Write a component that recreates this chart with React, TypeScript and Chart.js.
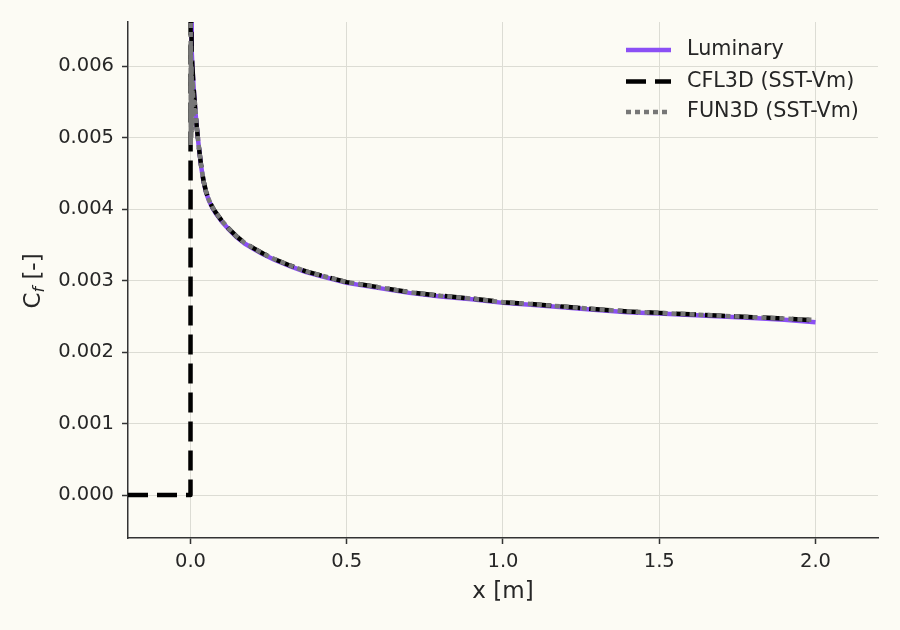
import { useEffect, useRef } from "react";
import { Chart, registerables } from "chart.js";

Chart.register(...registerables);

const FONT = "'DejaVu Sans', sans-serif";
const TEXT = "#262626";
const BG = "#fcfbf4";

const seriesNames = ["Luminary", "CFL3D (SST-Vm)", "FUN3D (SST-Vm)"];
const seriesColors = ["#8b4ff5", "#000000", "#777777"];

// Luminary skin friction along the plate
const xLuminary = [
  0.0003, 0.001, 0.002, 0.004, 0.006, 0.01, 0.015, 0.02, 0.026, 0.034, 0.042,
  0.05, 0.06, 0.07, 0.08, 0.1, 0.12, 0.145, 0.173, 0.2, 0.232, 0.27, 0.32,
  0.37, 0.42, 0.5, 0.6, 0.7, 0.8, 0.9, 1.0, 1.1, 1.2, 1.3, 1.4, 1.5, 1.6, 1.7,
  1.8, 1.9, 2.0,
];
const cfLuminary = [
  0.0085, 0.0072, 0.0066, 0.0062, 0.006, 0.0057, 0.0054, 0.00515, 0.0049,
  0.0046, 0.00438, 0.00423, 0.00411, 0.00402, 0.00395, 0.00383, 0.00373,
  0.00362, 0.00352, 0.00345, 0.00337, 0.00329, 0.0032, 0.00312, 0.00306,
  0.00297, 0.0029, 0.00283, 0.00278, 0.00274, 0.00269, 0.00266, 0.002625,
  0.00259, 0.00256, 0.00254, 0.00252, 0.0025, 0.00248, 0.002455, 0.00242,
];

// CFL3D: zero upstream of the leading edge, then the turbulent plate
const xCfl3d = [
  -0.2, -0.1, 0.0, 0.0002, 0.0006, 0.002, 0.004, 0.006, 0.01, 0.015, 0.02,
  0.026, 0.034, 0.042, 0.05, 0.06, 0.07, 0.08, 0.1, 0.12, 0.145, 0.173, 0.2,
  0.232, 0.27, 0.32, 0.37, 0.42, 0.5, 0.6, 0.7, 0.8, 0.9, 1.0, 1.1, 1.2, 1.3,
  1.4, 1.5, 1.6, 1.7, 1.8, 1.9, 1.98,
];
const cfCfl3d = [
  0.0, 0.0, 0.0, 0.0046, 0.0095, 0.0068, 0.0062, 0.006, 0.0057, 0.0054,
  0.00515, 0.0049, 0.00461, 0.00439, 0.00424, 0.00412, 0.00403, 0.00396,
  0.00384, 0.00374, 0.00363, 0.00353, 0.00346, 0.00338, 0.0033, 0.00321,
  0.00313, 0.00307, 0.00298, 0.00291, 0.00284, 0.00279, 0.00275, 0.0027,
  0.00267, 0.002635, 0.0026, 0.00257, 0.00255, 0.00253, 0.00251, 0.00249,
  0.00247, 0.00245,
];

// FUN3D: oscillates near the leading edge
const xFun3d = [
  0.0001, 0.0008, 0.0015, 0.0025, 0.0035, 0.005, 0.007, 0.01, 0.014, 0.02,
  0.026, 0.034, 0.042, 0.05, 0.06, 0.07, 0.08, 0.1, 0.12, 0.145, 0.173, 0.2,
  0.232, 0.27, 0.32, 0.37, 0.42, 0.5, 0.6, 0.7, 0.8, 0.9, 1.0, 1.1, 1.2, 1.3,
  1.4, 1.5, 1.6, 1.7, 1.8, 1.9, 2.0,
];
const cfFun3d = [
  0.009, 0.0049, 0.0063, 0.005, 0.006, 0.0051, 0.0058, 0.0053, 0.0055,
  0.00515, 0.0049, 0.00461, 0.00439, 0.00424, 0.00412, 0.00403, 0.00396,
  0.00384, 0.00374, 0.00363, 0.00353, 0.00346, 0.00338, 0.0033, 0.00321,
  0.00313, 0.00307, 0.00298, 0.00291, 0.00284, 0.00279, 0.00275, 0.0027,
  0.00267, 0.002635, 0.0026, 0.00257, 0.00255, 0.00253, 0.00251, 0.00249,
  0.00247, 0.00245,
];

const xTicks = [0, 0.5, 1.0, 1.5, 2.0];
const yTicks = [0, 0.001, 0.002, 0.003, 0.004, 0.005, 0.006];

const lineDashes: number[][] = [[], [20, 9], [5, 4]];

const toPoints = (xs: number[], ys: number[]) =>
  xs.map((x, i) => ({ x, y: ys[i] }));

// axis titles and a frameless legend, drawn by hand
const labelPlugin = {
  id: "cfLabels",
  beforeDraw(chart: Chart) {
    const ctx = chart.ctx;
    ctx.save();
    ctx.fillStyle = BG;
    ctx.fillRect(0, 0, chart.width, chart.height);
    ctx.restore();
  },
  afterDraw(chart: Chart) {
    const ctx = chart.ctx;
    const area = chart.chartArea;
    ctx.save();
    ctx.fillStyle = TEXT;
    ctx.textBaseline = "middle";

    ctx.font = `23px ${FONT}`;
    ctx.textAlign = "center";
    ctx.fillText("x [m]", (area.left + area.right) / 2, 592);

    // C_f [-], rotated
    ctx.save();
    ctx.translate(34, (area.top + area.bottom) / 2 + 1);
    ctx.rotate(-Math.PI / 2);
    ctx.textAlign = "left";
    const big = `23px ${FONT}`;
    const small = `italic 16px ${FONT}`;
    ctx.font = big;
    const wC = ctx.measureText("C").width;
    const wRest = ctx.measureText(" [-]").width;
    ctx.font = small;
    const wF = ctx.measureText("f").width;
    let x0 = -(wC + wF + wRest) / 2;
    ctx.font = big;
    ctx.fillText("C", x0, 0);
    x0 += wC;
    ctx.font = small;
    ctx.fillText("f", x0, 6);
    x0 += wF;
    ctx.font = big;
    ctx.fillText(" [-]", x0, 0);
    ctx.restore();

    // legend
    const rows = [50, 81.5, 112];
    ctx.font = `20.7px ${FONT}`;
    ctx.textAlign = "left";
    seriesNames.forEach((name, i) => {
      ctx.save();
      ctx.strokeStyle = seriesColors[i];
      ctx.lineWidth = 4.5;
      ctx.setLineDash(lineDashes[i]);
      ctx.beginPath();
      ctx.moveTo(626, rows[i]);
      ctx.lineTo(671, rows[i]);
      ctx.stroke();
      ctx.restore();
      ctx.fillText(name, 687, rows[i]);
    });
    ctx.restore();
  },
};

export default function App() {
  const canvasRef = useRef<HTMLCanvasElement>(null);
  const chartRef = useRef<Chart | null>(null);

  useEffect(() => {
    document.body.style.margin = "0";
    if (!canvasRef.current) return;
    const ctx = canvasRef.current.getContext("2d");
    if (!ctx) return;

    if (chartRef.current) {
      chartRef.current.destroy();
      chartRef.current = null;
    }

    const sets = [
      toPoints(xLuminary, cfLuminary),
      toPoints(xCfl3d, cfCfl3d),
      toPoints(xFun3d, cfFun3d),
    ];

    chartRef.current = new Chart(ctx, {
      type: "line",
      data: {
        datasets: sets.map((data, i) => ({
          label: seriesNames[i],
          data,
          borderColor: seriesColors[i],
          borderWidth: 4.5,
          borderDash: lineDashes[i],
          borderJoinStyle: "round" as const,
          pointRadius: 0,
          fill: false,
          tension: 0,
          order: 3 - i,
        })),
      },
      options: {
        animation: false,
        responsive: true,
        maintainAspectRatio: false,
        layout: { padding: { top: 22, right: 22, left: 0, bottom: 0 } },
        plugins: {
          legend: { display: false },
          tooltip: { enabled: false },
        },
        scales: {
          x: {
            type: "linear",
            min: -0.2,
            max: 2.2,
            afterBuildTicks: (scale: any) => {
              scale.ticks = xTicks.map((value) => ({ value }));
            },
            afterFit: (scale: any) => {
              scale.height = 92;
            },
            ticks: {
              color: TEXT,
              font: { family: FONT, size: 19.5 },
              padding: 6,
              maxRotation: 0,
              autoSkip: false,
              callback: (v: any) => Number(v).toFixed(1),
            },
            grid: {
              color: "#dcdcd4",
              lineWidth: 1,
              drawTicks: true,
              tickLength: 6,
              tickColor: "#333333",
              tickWidth: 1.5,
            },
            border: { display: true, color: "#333333", width: 1.5 },
          },
          y: {
            type: "linear",
            min: -0.0006,
            max: 0.00662,
            afterBuildTicks: (scale: any) => {
              scale.ticks = yTicks.map((value) => ({ value }));
            },
            afterFit: (scale: any) => {
              scale.width = 128;
            },
            ticks: {
              color: TEXT,
              font: { family: FONT, size: 19.5 },
              padding: 8,
              autoSkip: false,
              callback: (v: any) => Number(v).toFixed(3),
            },
            grid: {
              color: "#dcdcd4",
              lineWidth: 1,
              drawTicks: true,
              tickLength: 6,
              tickColor: "#333333",
              tickWidth: 1.5,
            },
            border: { display: true, color: "#333333", width: 1.5 },
          },
        },
      },
      plugins: [labelPlugin],
    });

    return () => {
      if (chartRef.current) {
        chartRef.current.destroy();
        chartRef.current = null;
      }
    };
  }, []);

  return (
    <div style={{ width: 900, height: 630, background: BG }}>
      <canvas ref={canvasRef}></canvas>
    </div>
  );
}
